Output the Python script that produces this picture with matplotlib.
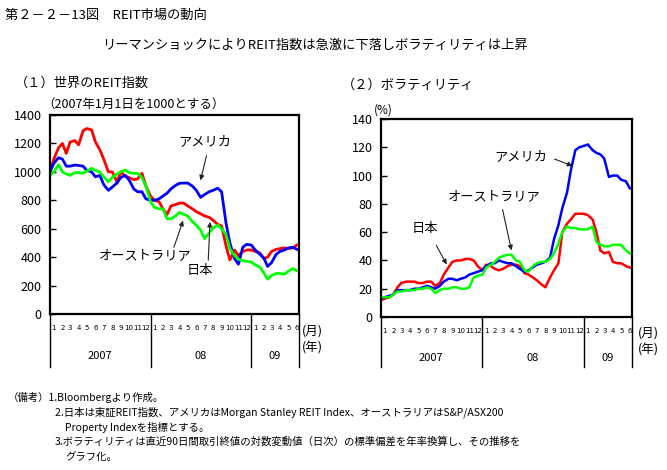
import matplotlib
matplotlib.use('Agg')
import matplotlib.pyplot as plt
import matplotlib.transforms as mtransforms
from matplotlib import font_manager
import pandas as pd

plt.rcParams['font.family'] = ['Noto Sans CJK JP', 'DejaVu Sans']

# 半月ごと（1日・15日）2007年1月〜2009年6月
dates = pd.date_range('2007-01-01', periods=60, freq='SMS')

# (1) 世界のREIT指数（2007年1月1日=1000）
reit_japan = [1000, 1090, 1170, 1200, 1130, 1210, 1220, 1190, 1290, 1305, 1295, 1210,
              1155, 1090, 1000, 1000, 930, 1000, 970, 960, 945, 950, 990, 900,
              830, 800, 790, 740, 700, 760, 770, 780, 780, 760, 740, 720,
              705, 690, 680, 660, 630, 620, 480, 380, 450, 410, 440, 450,
              450, 440, 430, 390, 400, 440, 455, 460, 465, 460, 465, 485]
reit_us = [1000, 1060, 1100, 1090, 1040, 1040, 1048, 1045, 1040, 1010, 1000, 965,
           975, 910, 870, 893, 921, 960, 975, 943, 880, 860, 860, 810,
           800, 800, 810, 830, 850, 880, 905, 920, 921, 921, 900, 870,
           820, 840, 860, 870, 885, 860, 640, 500, 390, 350, 470, 490,
           485, 450, 420, 395, 335, 360, 420, 440, 450, 465, 470, 455]
reit_aus = [975, 1000, 1050, 1000, 985, 975, 995, 995, 990, 1005, 1025, 1010,
            999, 965, 930, 960, 985, 1000, 1013, 995, 989, 990, 960, 900,
            790, 750, 740, 740, 670, 670, 690, 715, 700, 690, 650, 625,
            590, 530, 570, 605, 625, 600, 560, 460, 410, 385, 375, 370,
            366, 345, 330, 290, 245, 270, 285, 285, 280, 300, 320, 305]

# (2) ボラティリティ（%）
vol_japan = [12, 13, 14, 16, 21, 24, 25, 25, 25, 24, 24, 25,
             25, 22, 24, 30, 35, 39, 40, 40, 41, 41, 40, 36,
             33, 37, 36, 34, 33, 34, 36, 37, 37, 36, 31, 30,
             28, 26, 23, 21, 28, 33, 38, 60, 66, 69, 73, 73,
             73, 72, 69, 60, 47, 45, 46, 39, 38, 38, 36, 35]
vol_us = [13, 14, 15, 16, 19, 19, 19, 19, 20, 20, 21, 22,
          21, 20, 22, 25, 27, 27, 26, 27, 28, 30, 31, 32,
          33, 36, 38, 38, 40, 39, 38, 38, 36, 34, 32, 33,
          35, 37, 38, 39, 42, 55, 65, 77, 88, 104, 118, 120,
          121, 122, 118, 116, 115, 112, 99, 100, 100, 97, 96, 91]
vol_aus = [14, 14, 14, 16, 18, 18, 19, 19, 19, 20, 20, 21,
           20, 17, 19, 20, 20, 21, 21, 20, 20, 21, 28, 29,
           30, 35, 37, 39, 42, 43, 44, 44, 40, 39, 33, 32,
           36, 38, 39, 39, 41, 45, 52, 60, 64, 63, 63, 62,
           62, 62, 64, 53, 51, 50, 50, 51, 51, 51, 47, 45]

year_labels = ['2007', '08', '09']
month_labels = [str(m) for m in range(1, 13)] * 2 + [str(m) for m in range(1, 7)]

W, H = 667, 470
fig = plt.figure(figsize=(W / 100, H / 100), dpi=100)


def fx(x):
    return x / W


def fy(y):
    return 1 - y / H


# 月ラベル用の幅の狭いフォント（無ければDejaVu Sans）
try:
    font_manager.findfont('Liberation Sans Narrow', fallback_to_default=False)
    narrow, mon_size = 'Liberation Sans Narrow', 5.8
except ValueError:
    narrow, mon_size = 'DejaVu Sans', 5.0

fig.text(fx(5), fy(15), '第２－２－13図　REIT市場の動向', fontsize=9.5, va='center')
fig.text(fx(315), fy(45), 'リーマンショックによりREIT指数は急激に下落しボラティリティは上昇',
         fontsize=9.5, va='center', ha='center')

start = pd.Timestamp('2007-01-01')
end = pd.Timestamp('2009-06-23')
seps = [pd.Timestamp('2007-01-01'), pd.Timestamp('2008-01-01'),
        pd.Timestamp('2009-01-01'), end]


def setup_axes(ax, ymax, ystep, sep_bottom, mon_y, year_y):
    ax.set_xlim(start, end)
    ax.set_ylim(0, ymax)
    ax.set_yticks(range(0, ymax + 1, ystep))
    ax.tick_params(axis='y', direction='in', length=4, width=1, labelsize=9, pad=6)
    ax.set_xticks([])
    for s in ax.spines.values():
        s.set_linewidth(1.6)
    tr = mtransforms.blended_transform_factory(ax.transData, ax.transAxes)
    for d in seps:
        ax.plot([d, d], [0, sep_bottom], color='k', lw=1, transform=tr, clip_on=False)
    month_pos = pd.date_range('2007-01-01', periods=len(month_labels), freq='MS') + pd.Timedelta(days=14)
    for d, lab in zip(month_pos, month_labels):
        ax.text(d, mon_y, lab, transform=tr, ha='center', va='center',
                fontsize=mon_size, family=narrow, clip_on=False)
    year_pos = [pd.Timestamp('2007-07-01'), pd.Timestamp('2008-07-01'), pd.Timestamp('2009-03-28')]
    for d, lab in zip(year_pos, year_labels):
        ax.text(d, year_y, lab, transform=tr, ha='center', va='center', fontsize=8, clip_on=False)


def arrow(ax, text, tpos, tail, head):
    ax.text(tpos[0], tpos[1], text, transform=ax.transAxes, ha='center', va='center', fontsize=9.5)
    ax.annotate('', xy=head, xytext=tail, xycoords='axes fraction', textcoords='axes fraction',
                arrowprops=dict(arrowstyle='-|>', color='#222222', lw=0.8, mutation_scale=7))


# ---- (1) 世界のREIT指数
ax1 = fig.add_axes([fx(50), fy(314), fx(249), 199 / H])
ax1.plot(dates, reit_japan, color='#ff0000', lw=2.0)
ax1.plot(dates, reit_us, color='#0000ff', lw=2.0)
ax1.plot(dates, reit_aus, color='#00ff00', lw=2.0)
setup_axes(ax1, 1400, 200, -0.266, -0.07, -0.21)
arrow(ax1, 'アメリカ', (0.622, 0.864), (0.631, 0.809), (0.602, 0.658))
arrow(ax1, 'オーストラリア', (0.382, 0.296), (0.494, 0.322), (0.538, 0.482))
arrow(ax1, '日本', (0.602, 0.221), (0.635, 0.256), (0.643, 0.477))

fig.text(fx(15), fy(83), '（１）世界のREIT指数', fontsize=9.5, va='center')
fig.text(fx(42), fy(104), '（2007年1月1日を1000とする）', fontsize=9, va='center')
fig.text(fx(302), fy(331), '(月)', fontsize=9, va='center')
fig.text(fx(302), fy(348), '(年)', fontsize=9, va='center')

# ---- (2) ボラティリティ
ax2 = fig.add_axes([fx(381), fy(317), fx(251), 198 / H])
ax2.plot(dates, vol_japan, color='#ff0000', lw=1.8)
ax2.plot(dates, vol_us, color='#0000ff', lw=1.8)
ax2.plot(dates, vol_aus, color='#00ff00', lw=1.8)
setup_axes(ax2, 140, 20, -0.253, -0.07, -0.207)
arrow(ax2, 'アメリカ', (0.558, 0.808), (0.681, 0.803), (0.773, 0.758))
arrow(ax2, 'オーストラリア', (0.450, 0.606), (0.482, 0.556), (0.522, 0.323))
arrow(ax2, '日本', (0.175, 0.449), (0.215, 0.374), (0.267, 0.253))

fig.text(fx(342), fy(85), '（２）ボラティリティ', fontsize=9.5, va='center')
fig.text(fx(374), fy(110), '(%)', fontsize=8.5, va='center')
fig.text(fx(638), fy(333), '(月)', fontsize=9, va='center')
fig.text(fx(638), fy(350), '(年)', fontsize=9, va='center')

# ---- 備考
notes = [
    (8, 397, '（備考）1.Bloombergより作成。'),
    (55, 412, '2.日本は東証REIT指数、アメリカはMorgan Stanley REIT Index、オーストラリアはS&P/ASX200'),
    (65, 427, 'Property Indexを指標とする。'),
    (55, 442, '3.ボラティリティは直近90日間取引終値の対数変動値（日次）の標準偏差を年率換算し、その推移を'),
    (65, 458, 'グラフ化。'),
]
for x, y, s in notes:
    fig.text(fx(x), fy(y), s, fontsize=7.5, va='center')

fig.savefig('out.png', dpi=100)
